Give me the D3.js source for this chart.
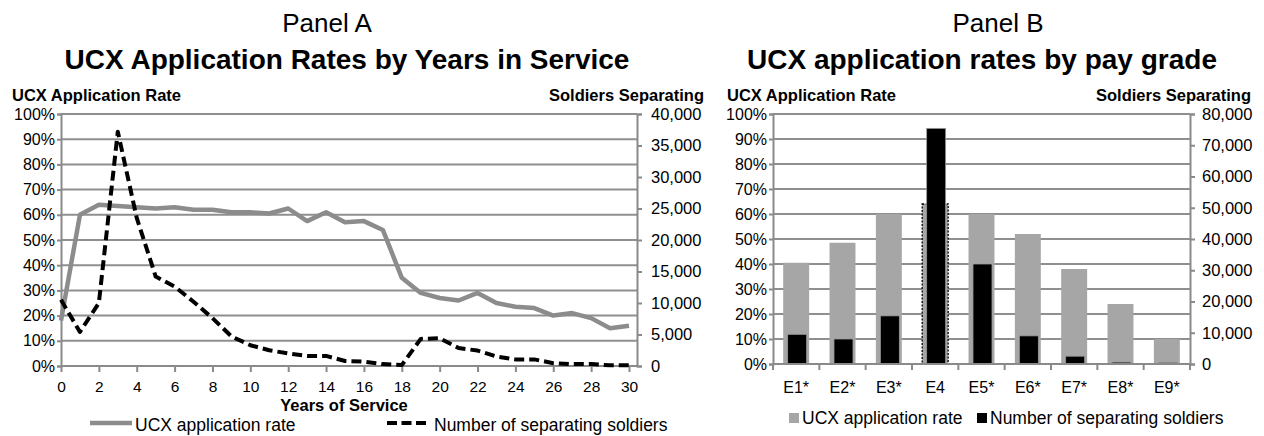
<!DOCTYPE html>
<html><head><meta charset="utf-8">
<script src="https://cdn.jsdelivr.net/npm/d3@7"></script>
<style>
body{margin:0;background:#fff}
svg{display:block;font-family:"Liberation Sans",Arial,Helvetica,sans-serif}
</style>
</head><body>
<svg id="chart" width="1264" height="436"></svg>
<script>
// ---------- Panel A data ----------
const years = [0,1,2,3,4,5,6,7,8,9,10,11,12,13,14,15,16,17,18,19,20,21,22,23,24,25,26,27,28,29,30];
const ucxRateByYear = [18,60,64,63.5,63,62.5,63,62,62,61,61,60.5,62.5,57.5,61,57,57.5,54,35,29,27,26,29,25,23.5,23,20,21,19,15,16];
const separatingByYear = [10500,5400,10000,37200,23500,14200,12600,10200,7600,4700,3300,2500,2000,1600,1600,800,700,300,150,4300,4400,2850,2450,1500,1050,1050,450,300,300,100,100];
const yearTicks = [0,2,4,6,8,10,12,14,16,18,20,22,24,26,28,30];
const rateTicks = [0,10,20,30,40,50,60,70,80,90,100];
const sepTicksA = [0,5000,10000,15000,20000,25000,30000,35000,40000];

// ---------- Panel B data ----------
const payGrades = ["E1*","E2*","E3*","E4","E5*","E6*","E7*","E8*","E9*"];
const ucxRateByGrade = [40.5,48.5,60,64,60,52,38,24,10];
const separatingByGrade = [9500,8000,15400,75400,32000,9000,2500,600,500];
const sepTicksB = [0,10000,20000,30000,40000,50000,60000,70000,80000];
const highlightedGrade = "E4";

// ---------- Text ----------
const titlesA = ["Panel A","UCX Application Rates by Years in Service"];
const titlesB = ["Panel B","UCX application rates by pay grade"];
const leftAxisTitle = "UCX Application Rate";
const rightAxisTitle = "Soldiers Separating";
const xTitleA = "Years of Service";
const legendLabels = ["UCX application rate","Number of separating soldiers"];

const svg = d3.select("#chart");
const GRID = "#8f8f8f", AXIS = "#8a8a8a", LINEGRAY = "#8c8c8c", BARGRAY = "#a6a6a6";
const fmtPct = d => d + "%";
const fmtNum = d3.format(",");

function styleAxis(g, fontSize) {
  g.select(".domain").attr("stroke", AXIS).attr("stroke-width", 2);
  g.selectAll(".tick line").attr("stroke", AXIS).attr("stroke-width", 2);
  g.selectAll(".tick text").attr("fill", "#000").attr("font-size", fontSize)
    .attr("font-family", "Liberation Sans, Arial, sans-serif");
}

// ================= PANEL A =================
{
  const L = 61, R = 637, T = 114, B = 366;
  const x = d3.scaleLinear().domain([0,30]).range([L, 629]);
  const yL = d3.scaleLinear().domain([0,100]).range([B, T]);
  const yR = d3.scaleLinear().domain([0,40000]).range([B, T]);

  // gridlines
  svg.append("g").selectAll("line").data(rateTicks.slice(1)).join("line")
    .attr("x1", L).attr("x2", R).attr("y1", d => yL(d)).attr("y2", d => yL(d))
    .attr("stroke", GRID).attr("stroke-width", 2);

  // left axis
  const gl = svg.append("g").attr("transform", `translate(${L},0)`)
    .call(d3.axisLeft(yL).tickValues(rateTicks).tickFormat(fmtPct).tickSizeOuter(0).tickSize(4).tickPadding(2));
  styleAxis(gl, 16);
  // right axis
  const gr = svg.append("g").attr("transform", `translate(${R},0)`)
    .call(d3.axisRight(yR).tickValues(sepTicksA).tickFormat(fmtNum).tickSizeOuter(0).tickSize(5).tickPadding(9));
  styleAxis(gr, 16.5);
  // bottom axis
  const gb = svg.append("g").attr("transform", `translate(0,${B})`);
  gb.append("line").attr("x1", L).attr("x2", R).attr("y1", 0).attr("y2", 0).attr("stroke", AXIS).attr("stroke-width", 2);
  const gbt = gb.append("g").call(d3.axisBottom(x).tickValues(yearTicks).tickFormat(d3.format("d")).tickSize(6).tickPadding(9));
  gbt.select(".domain").remove();
  styleAxis(gbt, 15.5);

  // lines
  const lineRate = d3.line().x((d,i) => x(years[i])).y(d => yL(d));
  const lineSep = d3.line().x((d,i) => x(years[i])).y(d => yR(d));
  svg.append("path").datum(ucxRateByYear).attr("d", lineRate)
    .attr("fill","none").attr("stroke", LINEGRAY).attr("stroke-width", 4.5).attr("stroke-linejoin","round");
  svg.append("path").datum(separatingByYear).attr("d", lineSep)
    .attr("fill","none").attr("stroke", "#000").attr("stroke-width", 4).attr("stroke-dasharray","10,5").attr("stroke-linejoin","round");

  // titles
  svg.append("text").attr("x", 327).attr("y", 32).attr("text-anchor","middle").attr("font-size", 26).text(titlesA[0]);
  svg.append("text").attr("x", 347).attr("y", 69).attr("text-anchor","middle").attr("font-size", 28).attr("font-weight","bold").text(titlesA[1]);
  svg.append("text").attr("x", 12).attr("y", 101).attr("font-size", 16.5).attr("font-weight","bold").text(leftAxisTitle);
  svg.append("text").attr("x", 704).attr("y", 101).attr("text-anchor","end").attr("font-size", 16.5).attr("font-weight","bold").text(rightAxisTitle);
  svg.append("text").attr("x", 344).attr("y", 411).attr("text-anchor","middle").attr("font-size", 16.5).attr("font-weight","bold").text(xTitleA);

  // legend
  const lg = svg.append("g");
  lg.append("line").attr("x1", 90).attr("x2", 132).attr("y1", 423).attr("y2", 423).attr("stroke", LINEGRAY).attr("stroke-width", 4.5);
  lg.append("text").attr("x", 135).attr("y", 431).attr("font-size", 17.5).text(legendLabels[0]);
  lg.append("line").attr("x1", 387).attr("x2", 426).attr("y1", 423).attr("y2", 423).attr("stroke", "#000").attr("stroke-width", 4).attr("stroke-dasharray","10,4.5");
  lg.append("text").attr("x", 434).attr("y", 431).attr("font-size", 17.5).text(legendLabels[1]);
}

// ================= PANEL B =================
{
  const L = 773, R = 1190, T = 114, B = 364;
  const x = d3.scaleBand().domain(payGrades).range([L, R]);
  const yL = d3.scaleLinear().domain([0,100]).range([B, T]);
  const yR = d3.scaleLinear().domain([0,80000]).range([B, T]);
  const bw = x.bandwidth();

  svg.append("g").selectAll("line").data(rateTicks.slice(1)).join("line")
    .attr("x1", L).attr("x2", R).attr("y1", d => yL(d)).attr("y2", d => yL(d))
    .attr("stroke", GRID).attr("stroke-width", 2);

  // gray bars (rate)
  const gw = bw * 0.56;
  svg.append("g").selectAll("rect").data(payGrades).join("rect")
    .attr("x", d => x(d) + (bw - gw)/2).attr("width", gw)
    .attr("y", (d,i) => yL(ucxRateByGrade[i])).attr("height", (d,i) => B - yL(ucxRateByGrade[i]))
    .attr("fill", BARGRAY)
    .attr("stroke", d => d === highlightedGrade ? "#000" : "none")
    .attr("stroke-width", 1.3).attr("stroke-dasharray", "2,1.5");
  // black bars (count)
  const kw = bw * 0.41;
  svg.append("g").selectAll("rect").data(payGrades).join("rect")
    .attr("x", d => x(d) + (bw - kw)/2 + 1).attr("width", kw)
    .attr("y", (d,i) => yR(separatingByGrade[i])).attr("height", (d,i) => B - yR(separatingByGrade[i]))
    .attr("fill", "#000").attr("stroke", "#9a9a9a").attr("stroke-width", 0.8);

  const gl = svg.append("g").attr("transform", `translate(${L},0)`)
    .call(d3.axisLeft(yL).tickValues(rateTicks).tickFormat(fmtPct).tickSizeOuter(0).tickSize(4).tickPadding(2));
  styleAxis(gl, 16);
  const gr = svg.append("g").attr("transform", `translate(${R},0)`)
    .call(d3.axisRight(yR).tickValues(sepTicksB).tickFormat(fmtNum).tickSizeOuter(0).tickSize(5).tickPadding(7));
  styleAxis(gr, 16.5);

  const gb = svg.append("g").attr("transform", `translate(0,${B})`);
  gb.append("line").attr("x1", L).attr("x2", R).attr("y1", 0).attr("y2", 0).attr("stroke", AXIS).attr("stroke-width", 2);
  gb.selectAll("line.bt").data(payGrades.concat(["end"])).join("line").attr("class","bt")
    .attr("x1", d => d === "end" ? R : x(d)).attr("x2", d => d === "end" ? R : x(d))
    .attr("y1", 0).attr("y2", 6).attr("stroke", AXIS).attr("stroke-width", 2);
  const gbt = gb.append("g").call(d3.axisBottom(x).tickSize(0).tickPadding(18));
  gbt.select(".domain").remove();
  styleAxis(gbt, 16);

  svg.append("text").attr("x", 998).attr("y", 32).attr("text-anchor","middle").attr("font-size", 26).text(titlesB[0]);
  svg.append("text").attr("x", 982).attr("y", 69).attr("text-anchor","middle").attr("font-size", 28).attr("font-weight","bold").text(titlesB[1]);
  svg.append("text").attr("x", 727).attr("y", 101).attr("font-size", 16.5).attr("font-weight","bold").text(leftAxisTitle);
  svg.append("text").attr("x", 1251).attr("y", 101).attr("text-anchor","end").attr("font-size", 16.5).attr("font-weight","bold").text(rightAxisTitle);

  const lg = svg.append("g");
  lg.append("rect").attr("x", 789).attr("y", 413).attr("width", 10).attr("height", 10).attr("fill", BARGRAY);
  lg.append("text").attr("x", 802).attr("y", 424).attr("font-size", 17.5).text(legendLabels[0]);
  lg.append("rect").attr("x", 977).attr("y", 413).attr("width", 10).attr("height", 10).attr("fill", "#000");
  lg.append("text").attr("x", 990).attr("y", 424).attr("font-size", 17.5).text(legendLabels[1]);
}
</script>
</body></html>
